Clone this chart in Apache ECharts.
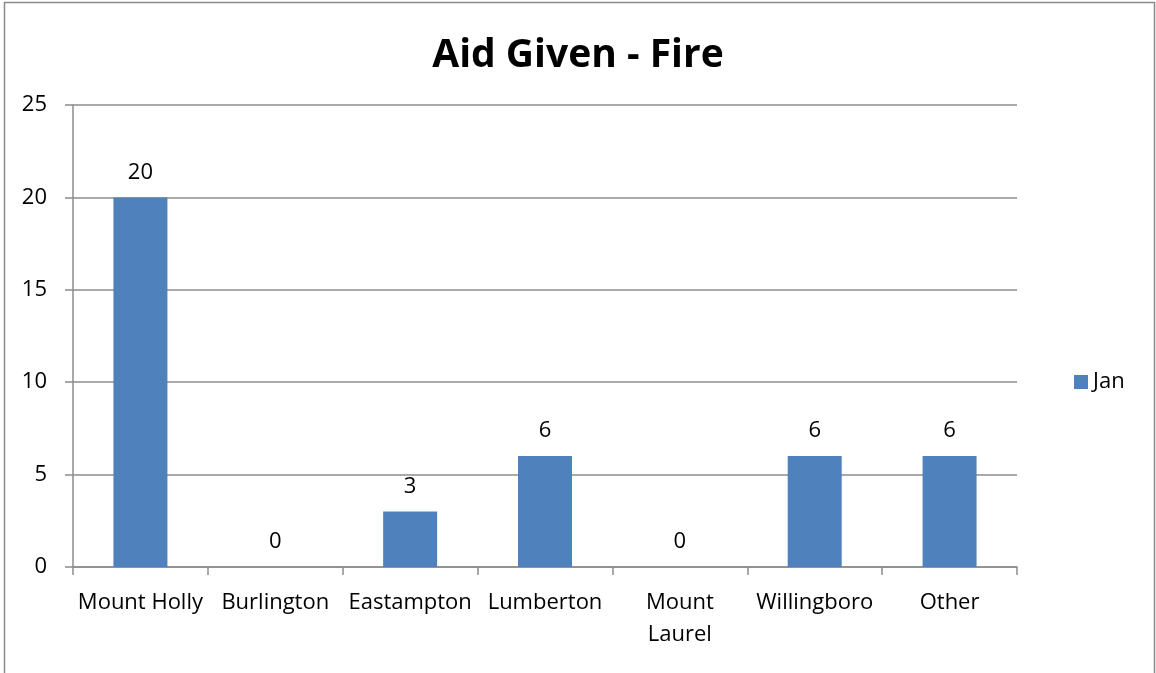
<!DOCTYPE html>
<html><head><meta charset="utf-8">
<script src="https://cdn.jsdelivr.net/npm/echarts@6/dist/echarts.min.js"></script>
<style>html,body{margin:0;padding:0;background:#fff}#c{width:1156px;height:673px}</style>
</head><body><div id="c"></div>
<script>
const categories = ['Mount Holly','Burlington','Eastampton','Lumberton','Mount Laurel','Willingboro','Other'];
const janValues = [20,0,3,6,0,6,6];
const seriesName = 'Jan';
const titleText = 'Aid Given - Fire';

const chart = echarts.init(document.getElementById('c'), null, {renderer:'canvas'});
const font = '"Open Sans", "Noto Sans", sans-serif';
chart.setOption({
  animation:false,
  textStyle:{fontFamily:font},
  graphic:[{type:'rect',shape:{x:4.5,y:2.5,width:1150,height:720},style:{fill:'none',stroke:'#8a8a8a',lineWidth:1.5},silent:true}],
  title:{text:titleText,left:'center',top:31,textStyle:{fontFamily:font,fontSize:39,fontWeight:'bold',color:'#000'}},
  legend:{left:1069,top:366,orient:'vertical',itemWidth:14,itemHeight:14,itemGap:6,icon:'rect',
    textStyle:{fontSize:22,color:'#000',fontFamily:font},data:[seriesName]},
  grid:{left:73,right:139,top:105,bottom:106,containLabel:false},
  xAxis:{type:'category',data:categories,
    axisLine:{lineStyle:{color:'#8c8c8c',width:1.5}},
    axisTick:{show:true,length:8,alignWithLabel:false,lineStyle:{color:'#8c8c8c',width:1.5}},
    axisLabel:{interval:0,margin:20,fontSize:22,color:'#000',lineHeight:32,fontFamily:font,
      formatter:v=>v==='Mount Laurel'?'Mount\nLaurel':v}},
  yAxis:{type:'value',min:0,max:25,interval:5,
    axisLine:{show:true,lineStyle:{color:'#8c8c8c',width:1.5}},
    axisTick:{show:true,length:8,inside:false,lineStyle:{color:'#8c8c8c',width:1.5}},
    splitLine:{lineStyle:{color:'#8c8c8c',width:1.5}},
    axisLabel:{margin:26,fontSize:22,color:'#000',fontFamily:font}},
  series:[{name:seriesName,type:'bar',data:janValues,barWidth:54,
    itemStyle:{color:'#4F81BD'},
    label:{show:true,position:'top',distance:14,fontSize:22,color:'#000',fontFamily:font}}]
});
</script></body></html>
